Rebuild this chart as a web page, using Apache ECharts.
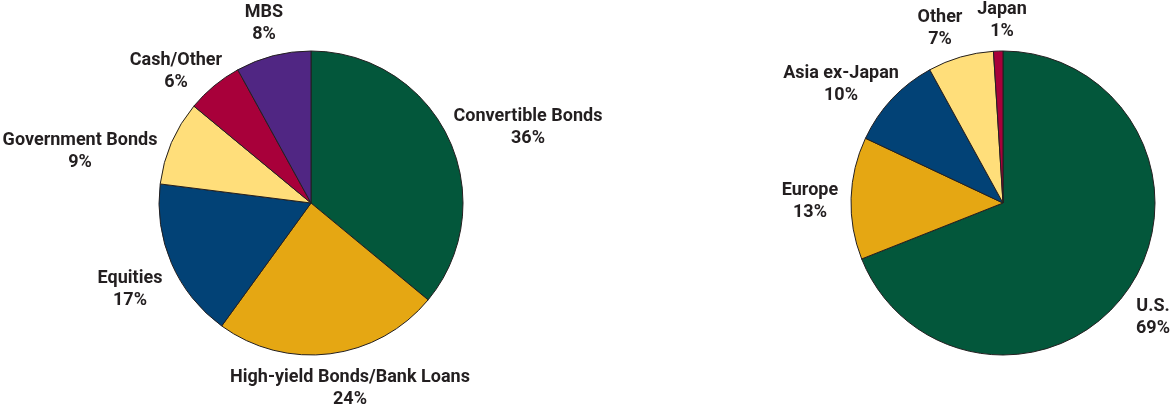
<!DOCTYPE html>
<html><head><meta charset="utf-8">
<script src="https://cdn.jsdelivr.net/npm/echarts@6/dist/echarts.min.js"></script>
<style>html,body{margin:0;padding:0;background:#fff}#c{width:1176px;height:406px}</style>
</head><body><div id="c"></div>
<script>
const sectorNames = ["Convertible Bonds","High-yield Bonds/Bank Loans","Equities","Government Bonds","Cash/Other","MBS"];
const sectorValues = [36,24,17,9,6,8];
const sectorColors = ["#03573b","#e5a713","#024276","#ffde7a","#a8003a","#502683"];
const regionNames = ["U.S.","Europe","Asia ex-Japan","Other","Japan"];
const regionValues = [69,13,10,7,1];
const regionColors = ["#03573b","#e5a713","#024276","#ffde7a","#a8003a"];

// label placement (centre of each two-line label), layout only
const sectorLabelPos = [[528,127],[350,388],[130,289],[80,151],[176,71],[264,23]];
const regionLabelPos = [[1153,317],[810,201],[841,84],[940,28],[1002,20]];

const R = 152;
const centers = [[311,203],[1003,203]];
const labelPos = [sectorLabelPos, regionLabelPos];

const chart = echarts.init(document.getElementById('c'));
function mk(names, vals, cols){ return names.map((n,i)=>({name:n,value:vals[i],itemStyle:{color:cols[i]}})); }
function layout(p){
  const pos = labelPos[p.seriesIndex][p.dataIndex];
  return { x: pos[0], y: pos[1], align:'center', verticalAlign:'middle', hideOverlap:false };
}
const labelCfg = {
  show:true, position:'outside', formatter:'{b}\n{c}%', color:'#231f20', overflow:'none',
  fontFamily:'Roboto', fontWeight:'bold', fontSize:18, lineHeight:22, align:'center'
};
const base = {
  type:'pie', radius:R, startAngle:90, clockwise:true, silent:true, animation:false,
  avoidLabelOverlap:false,
  itemStyle:{borderColor:'#231f20', borderWidth:1},
  label:labelCfg, labelLine:{show:false}, labelLayout: layout
};
chart.setOption({
  series:[
    Object.assign({}, base, {center:centers[0], data:mk(sectorNames,sectorValues,sectorColors)}),
    Object.assign({}, base, {center:centers[1], data:mk(regionNames,regionValues,regionColors)})
  ]
});
</script></body></html>
